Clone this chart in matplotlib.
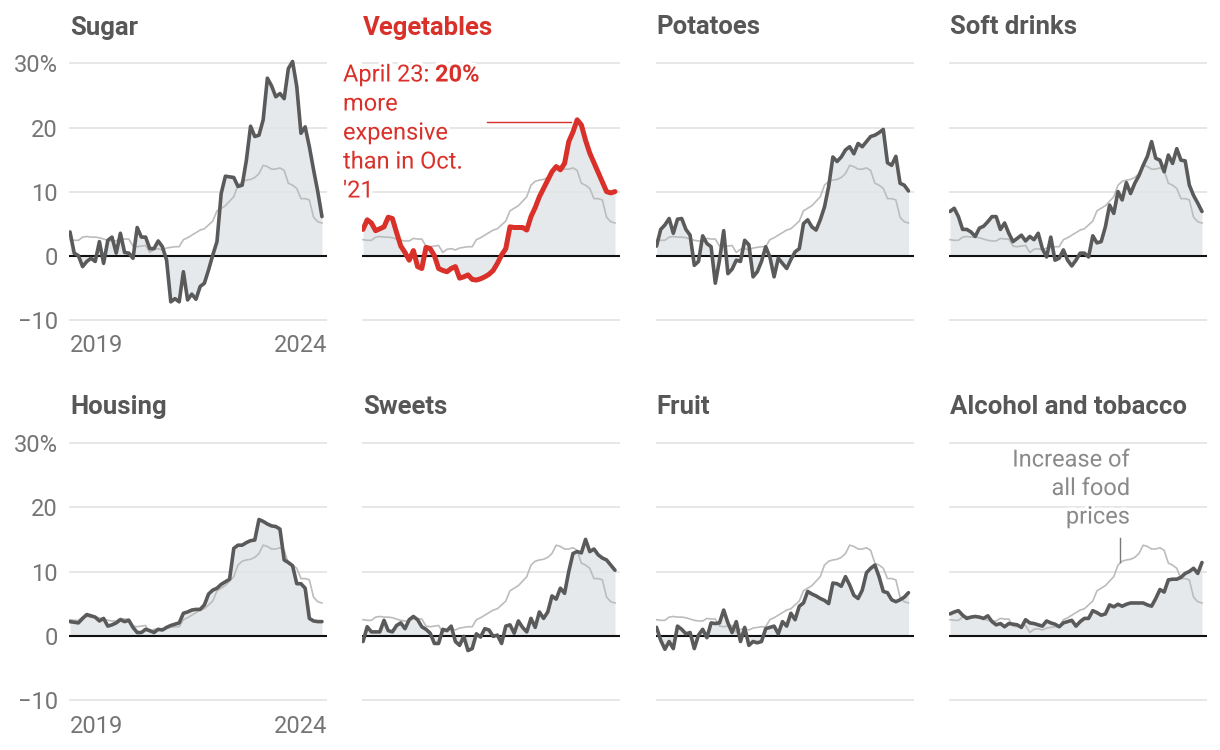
import matplotlib.pyplot as plt
import matplotlib.patheffects as pe
import numpy as np

plt.rcParams['font.family'] = ['Roboto', 'DejaVu Sans']

# monthly year-over-year change in %, Jan 2019 - Jan 2024
all_food = [2.5, 2.4, 2.4, 2.9, 3.0, 2.9, 2.9, 2.8, 2.6, 2.4, 2.3, 2.3, 2.7, 2.6, 2.6, 1.5,
            1.4, 1.5, 1.6, 0.5, 1.0, 1.1, 0.9, 1.2, 1.3, 1.4, 1.4, 2.5, 2.8, 3.2, 3.6, 4.0,
            4.2, 4.8, 5.4, 7.0, 7.4, 7.8, 8.5, 9.2, 11.0, 11.6, 11.8, 11.9, 12.2, 12.8, 14.1,
            13.9, 13.5, 13.5, 13.7, 13.3, 11.3, 11.0, 10.5, 8.9, 8.9, 8.7, 6.0, 5.3, 5.1]
sugar = [3.7, 0.4, 0.0, -1.7, -0.9, -0.4, -0.9, 2.2, -1.2, 2.4, 2.9, 0.4, 3.5, 0.5, 0.4, -0.4,
         4.4, 2.9, 2.9, 1.1, 1.1, 2.3, 1.4, -0.7, -7.2, -6.7, -7.2, -2.5, -6.9, -6.0, -6.8, -4.8,
         -4.3, -2.2, 0.1, 2.2, 9.7, 12.4, 12.3, 12.2, 10.8, 11.0, 14.9, 20.2, 18.6, 18.8, 21.2,
         27.7, 26.5, 24.8, 25.3, 24.5, 29.2, 30.3, 26.4, 19.1, 20.1, 17.0, 13.4, 10.0, 6.1]
vegetables = [4.1, 5.6, 5.1, 3.9, 4.2, 4.5, 6.0, 5.8, 3.6, 1.5, 0.5, -0.7, 0.8, -1.7, -2.0, 1.3,
              1.1, 0.0, -2.0, -2.3, -2.5, -2.0, -1.7, -3.5, -3.3, -3.0, -3.7, -3.8, -3.6, -3.3,
              -2.9, -2.3, -1.2, 0.1, 1.1, 4.5, 4.4, 4.4, 4.4, 4.0, 6.1, 7.5, 9.2, 10.5, 11.8,
              13.1, 13.9, 13.4, 14.4, 17.8, 19.3, 21.2, 20.4, 18.0, 16.0, 14.5, 13.0, 11.5,
              10.0, 9.8, 10.0]
potatoes = [1.5, 4.1, 4.8, 5.8, 3.5, 5.7, 5.8, 4.1, 3.2, -1.5, -0.9, 3.1, 1.9, 1.4, -4.3, -0.7,
            3.9, -2.8, -2.1, -0.7, -0.9, 2.4, 1.7, -3.3, -2.5, -0.9, 1.4, -0.2, -3.3, -0.4, -1.2,
            -2.0, -0.6, 0.6, 1.1, 5.0, 5.6, 4.5, 4.0, 5.6, 7.6, 10.8, 15.4, 14.7, 15.4, 16.5,
            17.0, 15.9, 17.5, 17.0, 17.8, 18.6, 18.8, 19.2, 19.7, 14.5, 14.1, 15.5, 11.3, 11.0,
            10.1]
soft_drinks = [6.9, 7.4, 6.1, 4.1, 4.1, 3.7, 3.0, 4.3, 4.6, 5.3, 6.1, 6.1, 4.1, 5.1, 3.5, 2.2,
               2.7, 3.2, 2.3, 3.0, 2.5, 3.5, 1.1, -0.2, 2.9, -0.7, -0.4, 0.9, -0.7, -1.6, -0.7,
               0.4, 0.4, -0.2, 3.1, 2.0, 2.2, 4.5, 7.9, 6.6, 10.0, 8.7, 11.4, 9.7, 11.3, 12.5,
               14.1, 15.5, 17.8, 15.2, 14.9, 13.1, 15.7, 14.4, 16.7, 14.9, 14.8, 11.0, 9.4, 8.2,
               6.9]
housing = [2.2, 2.1, 2.0, 2.7, 3.3, 3.1, 2.9, 2.3, 2.7, 1.5, 1.7, 2.0, 2.5, 2.2, 2.4, 1.3, 0.5,
           0.5, 1.0, 0.8, 0.5, 1.0, 0.9, 1.3, 1.6, 1.8, 2.0, 3.5, 3.7, 4.0, 4.1, 4.1, 4.8, 6.5,
           7.1, 7.4, 8.0, 8.4, 8.8, 13.6, 14.1, 14.1, 14.5, 14.8, 14.9, 18.1, 17.8, 17.4, 17.1,
           17.0, 16.6, 11.8, 11.4, 10.9, 8.1, 8.1, 7.4, 2.7, 2.3, 2.2, 2.2]
sweets = [-0.9, 1.4, 0.6, 0.6, 0.6, 2.4, 0.8, 0.6, 1.6, 2.0, 1.1, 2.5, 3.0, 2.5, 1.4, 1.0, 0.4,
          -1.2, -1.2, 1.0, 0.8, 1.5, -0.9, -1.5, -0.1, -2.3, -2.0, 0.3, -0.2, 1.1, 0.9, -0.1,
          0.1, -1.2, 1.5, 1.7, 0.4, 2.3, 1.3, 0.6, 2.7, 1.3, 3.7, 2.7, 3.7, 6.2, 5.7, 7.4, 6.6,
          10.0, 12.8, 13.1, 12.9, 15.0, 13.1, 13.5, 12.6, 12.1, 11.8, 11.0, 10.2]
fruit = [1.3, -0.7, -2.1, -0.9, -2.0, 1.5, 1.0, 0.3, 0.5, -2.0, 0.1, 1.0, -0.3, 2.0, 1.9, 2.0,
         4.0, 2.0, 0.5, 2.2, -0.9, 1.3, -1.5, -0.9, -1.1, -0.9, 1.1, 1.3, 1.5, 0.3, 2.2, 1.5,
         3.5, 2.5, 4.6, 5.1, 6.9, 6.5, 6.2, 5.8, 5.5, 5.0, 8.2, 8.1, 7.7, 9.2, 7.9, 6.3, 5.8,
         7.1, 9.8, 10.5, 11.0, 9.2, 6.9, 6.7, 5.6, 5.3, 5.6, 6.0, 6.7]
alcohol_tobacco = [3.4, 3.7, 3.9, 3.2, 2.7, 2.9, 3.0, 2.9, 2.7, 3.1, 2.2, 1.7, 1.9, 1.4, 1.9,
                   1.8, 1.7, 1.3, 2.5, 2.0, 1.9, 1.7, 1.5, 2.3, 2.0, 1.8, 1.4, 2.0, 2.2, 2.4,
                   1.5, 2.2, 2.7, 2.7, 3.9, 3.6, 3.2, 3.4, 4.8, 4.5, 4.9, 4.6, 4.9, 5.1, 5.1,
                   5.1, 5.1, 4.8, 4.6, 5.8, 7.2, 6.8, 8.7, 8.8, 8.8, 9.1, 9.7, 10.0, 10.5, 9.7,
                   11.4]

titles = ['Sugar', 'Vegetables', 'Potatoes', 'Soft drinks',
          'Housing', 'Sweets', 'Fruit', 'Alcohol and tobacco']
series = [sugar, vegetables, potatoes, soft_drinks,
          housing, sweets, fruit, alcohol_tobacco]
y_ticks = [-10, 0, 10, 20, 30]
y_tick_labels = ['\u221210', '0', '10', '20', '30%']
year_labels = ['2019', '2024']
veg_note = ['April 23: ', '20%', 'more', 'expensive', 'than in Oct.', "'21"]
food_note = ['Increase of', 'all food', 'prices']

DARK = '#5a5a5a'
RED = '#d9302a'
GREY_LINE = '#bcbcbc'
FILL = '#e5e9eb'
GRID = '#e3e3e3'
TXT = '#757575'
FS = 17

W, H = 1220, 750
fig = plt.figure(figsize=(W / 100, H / 100), dpi=100)

col_left = [69, 362, 655.5, 949]
row_top = [57, 436.6]
row_bot = [323, 703.2]
ax_w = 258

x = np.arange(len(all_food))
halo = [pe.withStroke(linewidth=5, foreground='white')]

axes = []
for i, (title, vals) in enumerate(zip(titles, series)):
    r, c = divmod(i, 4)
    ax = fig.add_axes([col_left[c] / W, 1 - row_bot[r] / H, ax_w / W,
                       (row_bot[r] - row_top[r]) / H])
    axes.append(ax)
    vals = np.array(vals)
    highlight = title == 'Vegetables'

    ax.fill_between(x, 0, vals, color=FILL, lw=0, zorder=1)
    for v in y_ticks:
        if v != 0:
            ax.axhline(v, color=GRID, lw=1.2, zorder=2)
    ax.axhline(0, color='#111111', lw=1.5, zorder=3)
    ax.plot(x, all_food, color=GREY_LINE, lw=1.2, zorder=4)
    ax.plot(x, vals, color=RED if highlight else DARK, lw=3.6 if highlight else 2.6,
            solid_joinstyle='round', solid_capstyle='round', zorder=5)

    ax.set_xlim(-0.24, 61.2)
    ax.set_ylim(-10.5, 31)
    ax.set_xticks([])
    ax.set_yticks(y_ticks)
    ax.set_yticklabels(y_tick_labels if c == 0 else [''] * len(y_ticks))
    ax.tick_params(axis='y', length=0, pad=8, labelsize=FS, labelcolor=TXT)
    for s in ax.spines.values():
        s.set_visible(False)

    ax.annotate(title, xy=(0, 1), xycoords=('data', 'axes fraction'),
                xytext=(0, 29.5 * 0.72), textcoords='offset points',
                ha='left', va='center', fontsize=18.5, fontweight='bold',
                color=RED if highlight else '#575757')

    if c == 0:
        ax.annotate(year_labels[0], xy=(0, 0), xycoords=('data', 'axes fraction'),
                    xytext=(0, -23 * 0.72), textcoords='offset points',
                    ha='left', va='center', fontsize=FS, color=TXT)
        ax.annotate(year_labels[1], xy=(1, 0), xycoords='axes fraction',
                    xytext=(0, -23 * 0.72), textcoords='offset points',
                    ha='right', va='center', fontsize=FS, color=TXT)

# vegetables annotation
ax = axes[1]
peak = int(np.argmax(vegetables))
ax.plot([peak - 21.5, peak - 1.5], [vegetables[peak] - 0.3] * 2, color=RED, lw=1.0, zorder=6)
t = fig.text(343 / W, 1 - 81.5 / H, veg_note[0], ha='left', va='baseline',
             fontsize=FS, color=RED, path_effects=halo, zorder=7)
ax.annotate(veg_note[1], xy=(1, 0), xycoords=t, ha='left', va='bottom',
            fontsize=FS, fontweight='bold', color=RED, path_effects=halo,
            annotation_clip=False, zorder=7)
for k, line in enumerate(veg_note[2:]):
    fig.text(343 / W, 1 - (110.5 + 29 * k) / H, line, ha='left', va='baseline',
             fontsize=FS, color=RED, path_effects=halo, zorder=7)

# all food annotation
ax = axes[7]
for k, line in enumerate(food_note):
    fig.text(1130 / W, 1 - (466.5 + 28.5 * k) / H, line, ha='right', va='baseline',
             fontsize=FS, color='#8a8a8a', path_effects=halo, zorder=7)
ax.plot([40.5, 40.5], [(all_food[40] + all_food[41]) / 2 + 0.2, 15.2],
        color='#7a7a7a', lw=1.0, zorder=6)

fig.savefig('out.png', dpi=100)
